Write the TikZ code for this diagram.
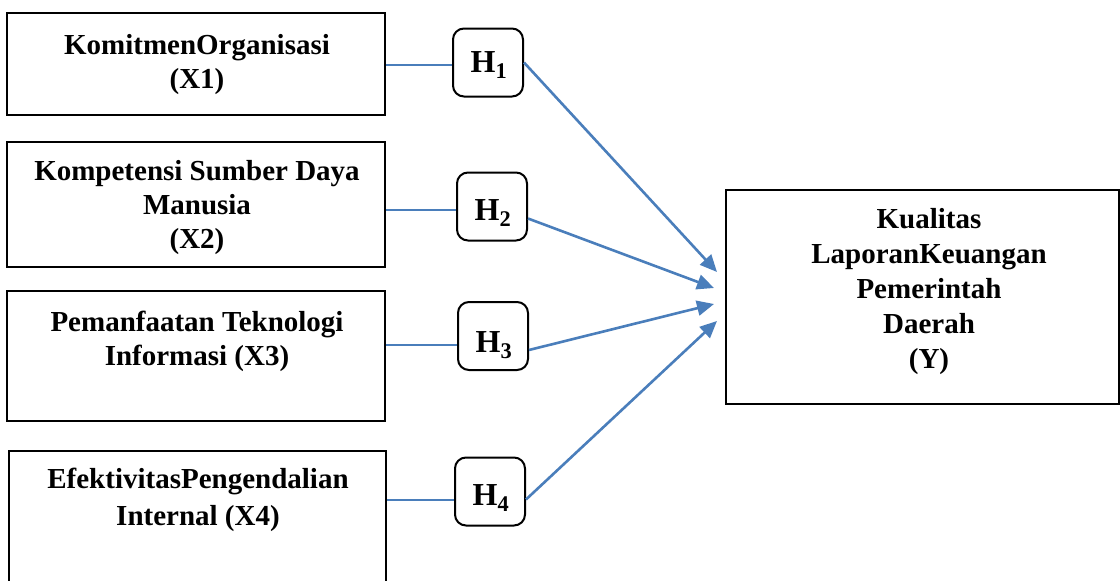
\documentclass[tikz,border=0pt]{standalone}
\usepackage{fontspec}
\setmainfont{Liberation Serif}
\usetikzlibrary{arrows.meta,calc}
\definecolor{linkblue}{RGB}{74,126,187}
\begin{document}
\begin{tikzpicture}[x=1pt,y=-1pt,
  box/.style={draw=black,line width=2pt,inner sep=0pt},
  hbox/.style={draw=black,line width=2pt,rounded corners=11pt,minimum width=70pt,minimum height=68pt,inner sep=0pt},
  hlbl/.style={inner sep=0pt,font=\fontsize{32}{36}\selectfont\bfseries},
  lbl/.style={align=center,font=\fontsize{29}{34}\selectfont\bfseries,inner sep=0pt},
  link/.style={draw=linkblue,line width=2.6pt},
  arr/.style={link,-{Triangle[length=17pt,width=15pt]}}]
\clip (0,0) rectangle (1120,581);
% left boxes
\node[box,minimum width=378pt,minimum height=102pt] (b1) at (196,64) {};
\node[box,minimum width=378pt,minimum height=125pt] (b2) at (196,204.5) {};
\node[box,minimum width=378pt,minimum height=130pt] (b3) at (196,356) {};
\node[box,minimum width=377pt,minimum height=150pt] (b4) at (197.5,526) {};
\node[lbl] (t1) at (197,65) {KomitmenOrganisasi\\(X1)};
\node[lbl] (t2) at (197,208) {Kompetensi Sumber Daya\\Manusia\\(X2)};
\node[lbl] (t3) at (197,341) {Pemanfaatan Teknologi\\Informasi (X3)};
\node[lbl,font=\fontsize{29}{37}\selectfont\bfseries] (t4) at (198,500) {EfektivitasPengendalian\\Internal (X4)};
% hypothesis boxes
\node[hbox] (h1) at (488,62.5) {};
\node[hbox] (h2) at (492,206.5) {};
\node[hbox] (h3) at (493,336) {};
\node[hbox] (h4) at (490,491.5) {};
\node[hlbl] (l1) at (489,65) {H\textsubscript{1}};
\node[hlbl] (l2) at (493,213) {H\textsubscript{2}};
\node[hlbl] (l3) at (494,345) {H\textsubscript{3}};
\node[hlbl] (l4) at (491,498) {H\textsubscript{4}};
% dependent box
\node[box,minimum width=393pt,minimum height=214pt] (y) at (922.5,297) {};
\node[lbl,font=\fontsize{29}{35}\selectfont\bfseries] (ty) at (929,291.5) {Kualitas\\LaporanKeuangan\\Pemerintah\\Daerah\\(Y)};
% connectors
\draw[link] (b1.east |- 0,65) -- (h1.west |- 0,65);
\draw[link] (b2.east |- 0,210) -- (h2.west |- 0,210);
\draw[link] (b3.east |- 0,345) -- (h3.west |- 0,345);
\draw[link] (b4.east |- 0,500) -- (h4.west |- 0,500);
\draw[arr] ($(h1.east)+(0,0)$) -- ($(y.west)+(-8,-25)$);
\draw[arr] ($(h2.east)+(0,12)$) -- ($(y.west)+(-11,-9)$);
\draw[arr] ($(h3.east)+(0,14)$) -- ($(y.west)+(-11,7)$);
\draw[arr] ($(h4.east)+(0,8)$) -- ($(y.west)+(-8,24)$);
\end{tikzpicture}
\end{document}
